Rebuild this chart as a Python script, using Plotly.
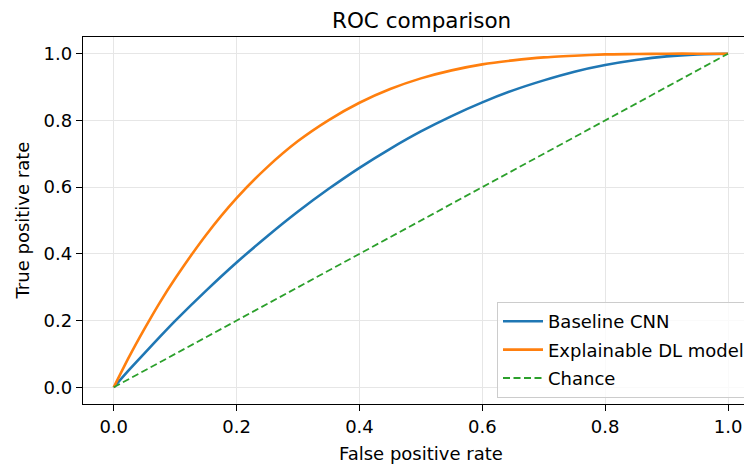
import plotly.graph_objects as go

fpr = [0.0, 0.025, 0.05, 0.075, 0.1, 0.15, 0.2, 0.25, 0.3, 0.35, 0.4, 0.45, 0.5,
       0.55, 0.6, 0.65, 0.7, 0.75, 0.8, 0.85, 0.9, 0.95, 1.0]
tpr_baseline = [0.0, 0.052, 0.102, 0.151, 0.199, 0.289, 0.374, 0.453, 0.527, 0.595,
                0.658, 0.715, 0.767, 0.813, 0.854, 0.890, 0.920, 0.946, 0.966, 0.981,
                0.992, 0.998, 1.0]
tpr_explainable = [0.0, 0.091, 0.175, 0.254, 0.326, 0.456, 0.567, 0.660, 0.738, 0.801,
                   0.853, 0.894, 0.926, 0.950, 0.968, 0.980, 0.989, 0.994, 0.998, 0.999,
                   1.0, 1.0, 1.0]
chance_x = [0.0, 1.0]
chance_y = [0.0, 1.0]
tick_vals = [0.0, 0.2, 0.4, 0.6, 0.8, 1.0]
tick_text = ["0.0", "0.2", "0.4", "0.6", "0.8", "1.0"]

FONT = "DejaVu Sans"
FS = 18

# The page body has an 8px margin; size the figure so the plot lands where the reference has it.
W, H = 744, 460
ML, MT, MR, MB = 75, 29, 0, 64
PW, PH = W - ML - MR, H - MT - MB

fig = go.Figure()
fig.add_trace(go.Scatter(x=fpr, y=tpr_baseline, mode="lines", name="Baseline CNN",
                         legendgroup="a",
                         line=dict(color="#1f77b4", width=2.6, shape="spline", smoothing=0.6)))
fig.add_trace(go.Scatter(x=fpr, y=tpr_explainable, mode="lines", name="Explainable DL model",
                         legendgroup="b",
                         line=dict(color="#ff7f0e", width=2.6, shape="spline", smoothing=0.6)))
fig.add_trace(go.Scatter(x=chance_x, y=chance_y, mode="lines", name="Chance",
                         legendgroup="c",
                         line=dict(color="#2ca02c", width=1.8, dash="7px,3.5px")))

axis_common = dict(
    showline=True, linecolor="black", linewidth=1.3,
    ticks="outside", ticklen=6, tickwidth=1.2, tickcolor="black",
    showgrid=True, gridcolor="#e6e6e6", gridwidth=1.2,
    zeroline=False,
    tickfont=dict(family=FONT, size=FS, color="black"),
    tickvals=tick_vals, ticktext=tick_text,
)

fig.update_layout(
    width=W, height=H,
    margin=dict(l=ML, r=MR, t=MT, b=MB, autoexpand=False),
    paper_bgcolor="white", plot_bgcolor="white",
    font=dict(family=FONT, size=FS, color="black"),
    showlegend=True,
    legend=dict(
        x=(750 - 83) / PW, y=(404 - 398) / PH, xanchor="right", yanchor="bottom",
        bgcolor="rgba(255,255,255,0.8)", bordercolor="#cccccc", borderwidth=1,
        font=dict(family=FONT, size=FS, color="black"),
        tracegroupgap=2, itemwidth=40,
    ),
    xaxis=dict(range=[-0.05, 1.039], mirror=True, **axis_common),
    yaxis=dict(range=[-0.05, 1.05], **axis_common),
)

fig.add_annotation(text="ROC comparison", x=(421 - 83) / PW, y=1 + (37 - 20) / PH,
                   xref="paper", yref="paper", showarrow=False, yanchor="middle",
                   font=dict(family=FONT, size=21.5, color="black"))
fig.add_annotation(text="False positive rate", x=(421 - 83) / PW, y=-(453 - 404) / PH,
                   xref="paper", yref="paper", showarrow=False, yanchor="middle",
                   font=dict(family=FONT, size=FS, color="black"))
fig.add_annotation(text="True positive rate", x=-(83 - 22) / PW, y=0.5,
                   xref="paper", yref="paper", showarrow=False, textangle=-90,
                   xanchor="center", yanchor="middle",
                   font=dict(family=FONT, size=FS, color="black"))

fig.write_html("out.html")
